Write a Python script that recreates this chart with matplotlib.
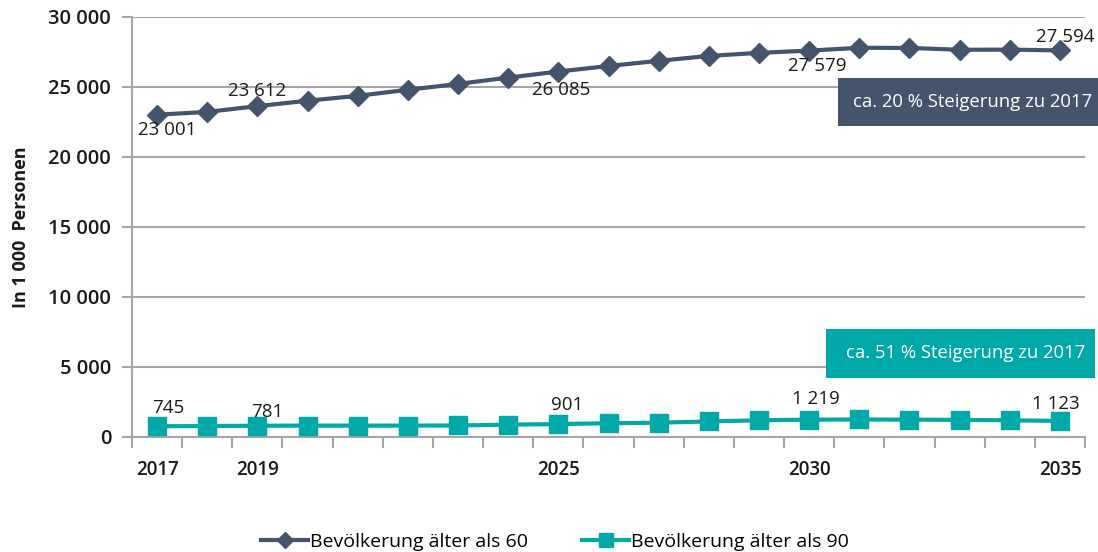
import matplotlib
matplotlib.use("Agg")
import matplotlib.pyplot as plt
from matplotlib.patches import Rectangle
from matplotlib.ticker import FuncFormatter, FixedLocator
import numpy as np

# ---------------------------------------------------------------------------
# Data (in 1 000 Personen)
# ---------------------------------------------------------------------------
years = list(range(2017, 2036))
over_60 = [23001, 23200, 23612, 24000, 24350, 24780, 25200, 25650, 26085,
           26480, 26850, 27200, 27420, 27579, 27780, 27770, 27640, 27650, 27594]
over_90 = [745, 760, 781, 790, 790, 792, 800, 860, 901,
           960, 1000, 1090, 1170, 1219, 1230, 1220, 1200, 1170, 1123]

label_60 = "Bevölkerung älter als 60"
label_90 = "Bevölkerung älter als 90"
shown_years = [2017, 2019, 2025, 2030, 2035]
labelled_years = [2017, 2019, 2025, 2030, 2035]
note_60 = "ca. 20 % Steigerung zu 2017"
note_90 = "ca. 51 % Steigerung zu 2017"

C60 = "#44546A"
C90 = "#00A8A8"
GRID = "#A6A6A6"
TXT = "#1a1a1a"

plt.rcParams["font.family"] = ["Open Sans", "DejaVu Sans"]


def de_thousands(v, _pos=None):
    return f"{int(round(v)):,}".replace(",", " ")


fig = plt.figure(figsize=(10.98, 5.52), dpi=100)
ax = fig.add_axes([0.1202, 0.2089, 0.868, 0.7608])

x = np.arange(len(years))
ax.plot(x, over_60, color=C60, lw=3, marker="D", ms=10, label=label_60, zorder=3)
ax.plot(x, over_90, color=C90, lw=3, marker="s", ms=13, label=label_90, zorder=3)

ax.set_xlim(-0.5, len(years) - 0.5)
ax.set_ylim(0, 30000)
ax.set_yticks(np.arange(0, 30001, 5000))
ax.yaxis.set_major_formatter(FuncFormatter(de_thousands))
ax.grid(axis="y", color=GRID, lw=1.5)
ax.set_axisbelow(True)

# category axis: ticks between categories, labels only on selected years
ax.xaxis.set_major_locator(FixedLocator(np.arange(-0.5, len(years), 1)))
ax.set_xticklabels([])
ax.set_xticks([years.index(y) for y in shown_years], minor=True)
ax.set_xticklabels([str(y) for y in shown_years], minor=True)
ax.tick_params(axis="x", which="major", length=8, width=1.5, color=GRID)
ax.tick_params(axis="x", which="minor", length=0, pad=17, labelsize=13.5)
ax.tick_params(axis="y", length=7, width=1.5, color=GRID, labelsize=14.5, pad=8)
for lab in ax.get_xticklabels(minor=True) + ax.get_yticklabels():
    lab.set_fontweight("semibold")
    lab.set_color(TXT)

for side in ["top", "right"]:
    ax.spines[side].set_visible(False)
for side in ["left", "bottom"]:
    ax.spines[side].set_color(GRID)
    ax.spines[side].set_linewidth(1.5)

ax.set_ylabel("In 1 000  Personen", fontsize=13, fontweight="bold", labelpad=13, color=TXT)

# data labels (offsets in points)
offsets_60 = {2017: (7, -11), 2019: (0, 11), 2025: (2, -13), 2030: (6, -11), 2035: (4, 10)}
offsets_90 = {2017: (8, 13), 2019: (7, 10), 2025: (6, 14), 2030: (5, 15), 2035: (-3, 12)}
for y in labelled_years:
    i = years.index(y)
    ax.annotate(de_thousands(over_60[i]), (x[i], over_60[i]), xytext=offsets_60[y],
                textcoords="offset points", ha="center", va="center",
                fontsize=13.5, color=TXT)
    ax.annotate(de_thousands(over_90[i]), (x[i], over_90[i]), xytext=offsets_90[y],
                textcoords="offset points", ha="center", va="center",
                fontsize=13.5, color=TXT)

# notes: boxes drawn in figure pixels
W, H = 1098, 552
for (x0, x1, y0, y1), txt, col in [((838, 1100, 78, 126), note_60, C60),
                                   ((826, 1095, 329, 378), note_90, C90)]:
    fig.patches.append(Rectangle((x0 / W, 1 - y1 / H), (x1 - x0) / W, (y1 - y0) / H,
                                 transform=fig.transFigure, fc=col, ec="none", zorder=5))
    cx = (x0 + min(x1, W)) / 2 + 5
    fig.text(cx / W, 1 - (y0 + y1) / 2 / H, txt, ha="center", va="center",
             fontsize=13.3, color="white", zorder=6)

ax.legend(loc="center", bbox_to_anchor=(0.444, -0.25), ncol=2, frameon=False,
          fontsize=14, handlelength=2.4, handletextpad=0.1, columnspacing=2.8,
          markerscale=0.8)

fig.savefig("out.png", dpi=100)
